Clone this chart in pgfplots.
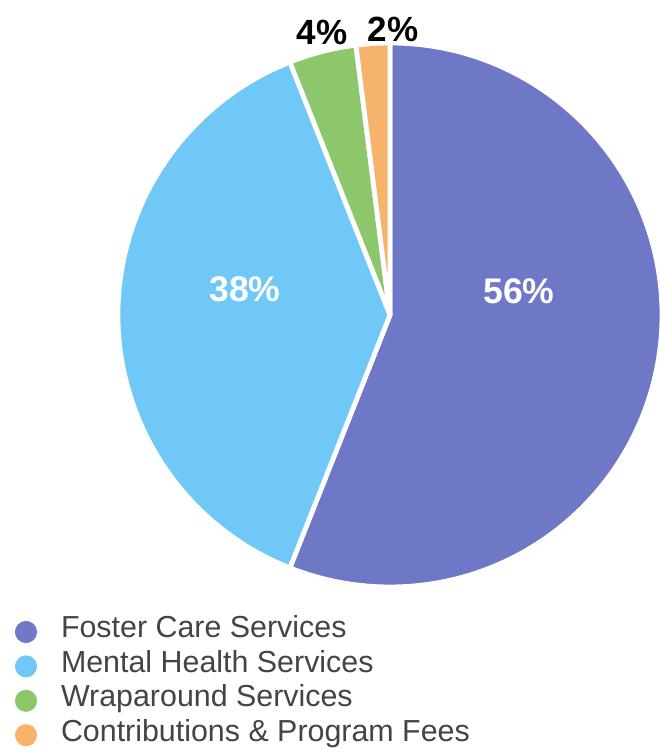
\documentclass[border=0pt]{standalone}
\usepackage{pgfplots}
\pgfplotsset{compat=1.18}
\usepackage{pgfplotstable}
\usepackage{fontspec}
\setmainfont{Liberation Sans}

\definecolor{piepurple}{HTML}{6F77C7}
\definecolor{pieblue}{HTML}{70C8F7}
\definecolor{piegreen}{HTML}{8CC86B}
\definecolor{pieorange}{HTML}{F5B36B}
\definecolor{legendtext}{HTML}{444444}

% share of each service, clockwise from 12 o'clock
\pgfplotstableread{
value colour
56 piepurple
38 pieblue
4  piegreen
2  pieorange
}\piedata

\begin{document}
\begin{tikzpicture}
\begin{axis}[%
hide axis,
scale only axis,
width=329.5pt,
height=376.5pt,
xmin=0, xmax=659,
ymin=0, ymax=753,
clip=false,
legend style={
  at={(axis cs:15,137)}, anchor=north west,
  draw=none, fill=none, inner sep=0pt, outer sep=0pt,
  row sep=2.7pt, column sep=12pt,
  font=\fontsize{15.2pt}{17pt}\selectfont, text=legendtext,
  nodes={inner sep=0pt, text height=11pt, text depth=3.5pt, anchor=base west},
},
legend cell align=left,
]
\def\cum{0}
\pgfplotsforeachungrouped \i in {0,...,3} {
  \pgfplotstablegetelem{\i}{value}\of\piedata \let\val\pgfplotsretval
  \pgfplotstablegetelem{\i}{colour}\of\piedata \let\col\pgfplotsretval
  \pgfmathsetmacro{\a}{90-3.6*\cum}
  \pgfmathsetmacro{\b}{90-3.6*(\cum+\val)}
  \edef\temp{\noexpand\fill[\col, draw=white, line width=2.4pt, line join=round]
    (axis cs:390,438) -- ++(\a:136pt) arc[start angle=\a, end angle=\b, radius=136pt] -- cycle;}
  \temp
  \pgfmathsetmacro{\cum}{\cum+\val}
}

\node[white, font=\fontsize{17.8pt}{20pt}\selectfont\bfseries] at (axis cs:519,462) {56\%};
\node[white, font=\fontsize{17.8pt}{20pt}\selectfont\bfseries] at (axis cs:245,464) {38\%};
\node[black, font=\fontsize{17.5pt}{20pt}\selectfont\bfseries] at (axis cs:322,721) {4\%};
\node[black, font=\fontsize{17.5pt}{20pt}\selectfont\bfseries] at (axis cs:393,724) {2\%};

\addlegendimage{legend image code/.code={\fill[piepurple] (5.5pt,3pt) circle (5.3pt);}}
\addlegendentry{Foster Care Services}
\addlegendimage{legend image code/.code={\fill[pieblue] (5.5pt,3pt) circle (5.3pt);}}
\addlegendentry{Mental Health Services}
\addlegendimage{legend image code/.code={\fill[piegreen] (5.5pt,3pt) circle (5.3pt);}}
\addlegendentry{Wraparound Services}
\addlegendimage{legend image code/.code={\fill[pieorange] (5.5pt,3pt) circle (5.3pt);}}
\addlegendentry{Contributions \& Program Fees}
\end{axis}
\pgfresetboundingbox
\useasboundingbox (0,0) rectangle (329.5pt,376.5pt);
\end{tikzpicture}
\end{document}
